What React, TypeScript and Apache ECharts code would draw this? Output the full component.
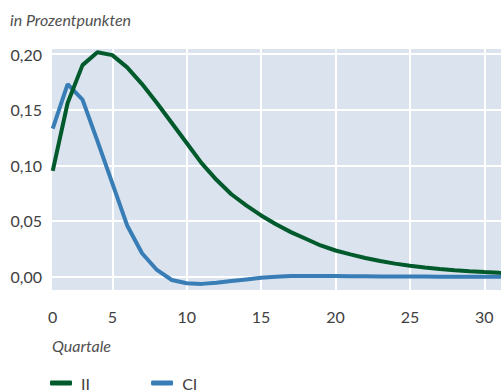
import React, { useEffect, useRef } from "react";
import * as echarts from "echarts";

const quarters = [1, 2, 3, 4, 5, 6, 7, 8, 9, 10, 11, 12, 13, 14, 15, 16, 17, 18, 19, 20, 21, 22, 23, 24, 25, 26, 27, 28, 29, 30, 31, 32];
const seriesII = [0.095, 0.156, 0.19, 0.2015, 0.199, 0.188, 0.173, 0.156, 0.138, 0.12, 0.102, 0.087, 0.074, 0.064, 0.055, 0.047, 0.04, 0.034, 0.028, 0.0235, 0.02, 0.0167, 0.014, 0.0117, 0.0098, 0.0082, 0.0069, 0.0058, 0.0049, 0.0041, 0.0034, 0.0028];
const seriesCI = [0.133, 0.173, 0.159, 0.122, 0.084, 0.046, 0.021, 0.006, -0.003, -0.006, -0.0065, -0.0055, -0.004, -0.0025, -0.001, 0, 0.0005, 0.0006, 0.0006, 0.0005, 0.0004, 0.0003, 0.0002, 0.0002, 0.0001, 0.0001, 0, 0, 0, 0, 0, 0];
const xLabelValues = [1, 5, 10, 15, 20, 25, 30];
const xGridValues = [5, 10, 15, 20, 25, 30];
const yTickValues = [0, 0.05, 0.1, 0.15, 0.2];

const FONT = "Lato";
const TEXT = "#404040";

export default function App() {
  const ref = useRef<HTMLDivElement>(null);
  useEffect(() => {
    if (!ref.current) return;
    const chart = echarts.init(ref.current, null, { renderer: "svg" });
    chart.setOption({
      animation: false,
      grid: {
        left: 52,
        right: 0,
        top: 49,
        bottom: 102,
        show: true,
        backgroundColor: "#dae3ee",
        borderWidth: 0,
      },
      xAxis: {
        type: "value",
        min: 0.95,
        max: 31.12,
        axisLine: { show: false },
        axisTick: { show: false, customValues: xGridValues },
        splitLine: { show: true, lineStyle: { color: "#ffffff", width: 2 } },
        axisLabel: {
          customValues: xLabelValues,
          formatter: (v: number) => (v === 1 ? "0" : String(v)),
          color: TEXT,
          fontFamily: FONT,
          fontSize: 16,
          margin: 18,
        },
      },
      yAxis: {
        type: "value",
        min: -0.012,
        max: 0.2045,
        axisLine: { show: false },
        axisTick: { show: false, customValues: yTickValues },
        splitLine: { show: true, lineStyle: { color: "#ffffff", width: 2 } },
        axisLabel: {
          customValues: yTickValues,
          formatter: (v: number) => v.toFixed(2).replace(".", ","),
          color: TEXT,
          fontFamily: FONT,
          fontSize: 16,
          margin: 10,
        },
      },
      legend: {
        left: 50,
        top: 375,
        padding: 0,
        itemWidth: 22,
        itemHeight: 5,
        itemGap: 61,
        icon: "roundRect",
        formatter: (name: string) => " " + name,
        textStyle: { color: TEXT, fontFamily: FONT, fontSize: 16, lineHeight: 16 },
        data: ["II", "CI"],
      },
      graphic: [
        {
          type: "text",
          left: 10,
          top: 11,
          style: { text: "in Prozentpunkten", fill: "#505050", font: `italic 16px ${FONT}` },
        },
        {
          type: "text",
          left: 52,
          top: 337,
          style: { text: "Quartale", fill: "#505050", font: `italic 16px ${FONT}` },
        },
      ],
      series: [
        {
          name: "II",
          type: "line",
          data: quarters.map((q, i) => [q, seriesII[i]]),
          showSymbol: false,
          symbol: "none",
          lineStyle: { color: "#005a2b", width: 4 },
          itemStyle: { color: "#005a2b" },
          z: 3,
        },
        {
          name: "CI",
          type: "line",
          data: quarters.map((q, i) => [q, seriesCI[i]]),
          showSymbol: false,
          symbol: "none",
          lineStyle: { color: "#387db5", width: 4 },
          itemStyle: { color: "#387db5" },
          z: 2,
        },
      ],
    });
    return () => chart.dispose();
  }, []);
  return <div ref={ref} style={{ width: 501, height: 392, position: "absolute", left: 0, top: 0 }} />;
}
